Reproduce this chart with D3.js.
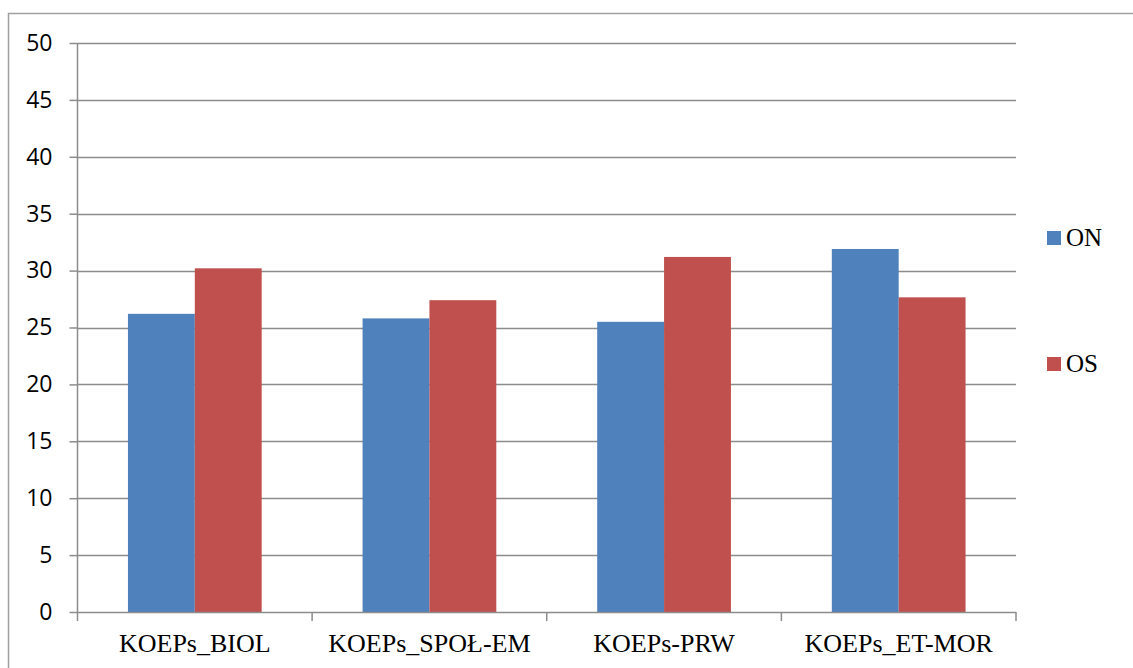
<!DOCTYPE html>
<html>
<head>
<meta charset="utf-8">
<script src="https://cdn.jsdelivr.net/npm/d3@7"></script>
<style>
  html, body { margin: 0; padding: 0; background: #fff; }
  svg { display: block; }
</style>
</head>
<body>
<svg id="chart" width="1133" height="668"></svg>
<script>
// Categories and series values
const categories = ["KOEPs_BIOL", "KOEPs_SPOŁ-EM", "KOEPs-PRW", "KOEPs_ET-MOR"];
const seriesNames = ["ON", "OS"];
const valuesON = [26.2, 25.8, 25.5, 31.9];
const valuesOS = [30.2, 27.4, 31.2, 27.65];
const yTicks = [0, 5, 10, 15, 20, 25, 30, 35, 40, 45, 50];
const colors = { ON: "#4F81BD", OS: "#C0504D" };

const series = { ON: valuesON, OS: valuesOS };

const svg = d3.select("#chart");

// outer chart frame (left and top edges)
svg.append("path")
  .attr("d", "M8.5,668 V13.5 H1133")
  .attr("fill", "none")
  .attr("stroke", "#a0a0a0")
  .attr("stroke-width", 1.5);

const plot = { left: 77.5, right: 1016, top: 43, bottom: 612 };

const x = d3.scaleBand()
  .domain(categories)
  .range([plot.left, plot.right])
  .paddingInner(0.43)
  .paddingOuter(0.215);

const xSub = d3.scaleBand()
  .domain(seriesNames)
  .range([0, x.bandwidth()]);

const y = d3.scaleLinear()
  .domain([0, 50])
  .range([plot.bottom, plot.top]);

// horizontal gridlines
svg.append("g")
  .selectAll("line")
  .data(yTicks.filter(d => d > 0))
  .join("line")
  .attr("x1", plot.left)
  .attr("x2", plot.right)
  .attr("y1", d => Math.round(y(d)) + 0.5)
  .attr("y2", d => Math.round(y(d)) + 0.5)
  .attr("stroke", "#8c8c8c")
  .attr("stroke-width", 1.5);

// bars
const groups = svg.append("g")
  .selectAll("g")
  .data(categories)
  .join("g")
  .attr("transform", d => `translate(${x(d)},0)`);

groups.selectAll("rect")
  .data((c, i) => seriesNames.map(s => ({ s, v: series[s][i] })))
  .join("rect")
  .attr("x", d => xSub(d.s))
  .attr("width", xSub.bandwidth())
  .attr("y", d => y(d.v))
  .attr("height", d => y(0) - y(d.v))
  .attr("fill", d => colors[d.s]);

// y axis
const yAxis = d3.axisLeft(y)
  .tickValues(yTicks)
  .tickSize(8)
  .tickPadding(17)
  .tickFormat(d3.format("d"));

const gy = svg.append("g")
  .attr("transform", `translate(${plot.left},0)`)
  .call(yAxis);
gy.select(".domain").attr("stroke", "#8c8c8c").attr("stroke-width", 1.5)
  .attr("d", `M0,${plot.top}V${plot.bottom}`);
gy.selectAll(".tick line").attr("stroke", "#8c8c8c").attr("stroke-width", 1.5);
gy.selectAll(".tick text")
  .attr("font-family", "'Open Sans', 'Liberation Sans', sans-serif")
  .attr("font-size", 23)
  .attr("fill", "#000");

// x axis with ticks at category boundaries
const gx = svg.append("g")
  .attr("transform", `translate(0,${plot.bottom})`);
gx.append("line")
  .attr("x1", plot.left).attr("x2", plot.right)
  .attr("y1", 0.5).attr("y2", 0.5)
  .attr("stroke", "#8c8c8c").attr("stroke-width", 1.5);

const boundaries = d3.range(categories.length + 1).map(i => plot.left + i * (plot.right - plot.left) / categories.length);
gx.selectAll("line.tk")
  .data(boundaries)
  .join("line")
  .attr("class", "tk")
  .attr("x1", d => d).attr("x2", d => d)
  .attr("y1", 0).attr("y2", 9)
  .attr("stroke", "#8c8c8c").attr("stroke-width", 1.5);

gx.selectAll("text")
  .data(categories)
  .join("text")
  .attr("x", d => x(d) + x.bandwidth() / 2)
  .attr("y", 40)
  .attr("text-anchor", "middle")
  .attr("font-family", "'Liberation Serif', 'Times New Roman', serif")
  .attr("font-size", 26)
  .attr("fill", "#000")
  .text(d => d);

// legend
const legend = svg.append("g");
const legendY = { ON: 231, OS: 357 };
seriesNames.forEach(s => {
  legend.append("rect")
    .attr("x", 1047)
    .attr("y", legendY[s])
    .attr("width", 14)
    .attr("height", 14)
    .attr("fill", colors[s]);
  legend.append("text")
    .attr("x", 1066)
    .attr("y", legendY[s] + 15)
    .attr("font-family", "'Liberation Serif', 'Times New Roman', serif")
    .attr("font-size", 25)
    .attr("fill", "#000")
    .text(s);
});
</script>
</body>
</html>
